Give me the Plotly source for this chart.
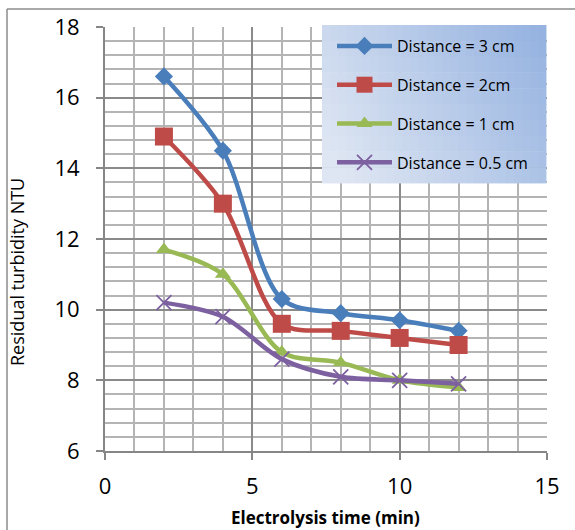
import plotly.graph_objects as go
import numpy as np

time_min = [2, 4, 6, 8, 10, 12]
d3_cm = [16.6, 14.5, 10.3, 9.9, 9.7, 9.4]
d2_cm = [14.9, 13.0, 9.6, 9.4, 9.2, 9.0]
d1_cm = [11.7, 11.0, 8.8, 8.5, 8.0, 7.8]
d05_cm = [10.2, 9.8, 8.6, 8.1, 8.0, 7.9]
series_names = ["Distance = 3 cm", "Distance = 2cm", "Distance = 1 cm", "Distance = 0.5 cm"]

colors = ["#4A7EBB", "#BE4B48", "#98B954", "#7D60A0"]
symbols = ["diamond", "square", "triangle-up", "x-thin"]
msizes = [14, 18, 14, 15]

W, H = 575, 530
L, R, T, B = 105, 28, 27, 79
pw, ph = W - L - R, H - T - B

FONT = "Open Sans, Calibri, sans-serif"

fig = go.Figure()
for name, ys, c, s, ms in zip(series_names, [d3_cm, d2_cm, d1_cm, d05_cm], colors, symbols, msizes):
    mk = dict(symbol=s, size=ms, color=c)
    if s == "x-thin":
        mk["line"] = dict(color=c, width=1.8)
    fig.add_trace(go.Scatter(
        x=time_min, y=ys, name=name, mode="lines+markers",
        line=dict(color=c, width=4.5, shape="spline", smoothing=0.9),
        marker=mk, legendgroup=name,
    ))

def px_x(p):
    return (p - L) / pw

def px_y(p):
    return (H - B - p) / ph

shapes = []
# legend gradient background
lx0, lx1, ly0, ly1 = 322, 546, 25, 183
nx, ny = 28, 10
c_light = np.array([0xDE, 0xE6, 0xF3])
c_dark = np.array([0x93, 0xB1, 0xE0])
for i in range(nx):
    for j in range(ny):
        u = (i + 0.5) / nx
        v = (j + 0.5) / ny
        t = np.clip(0.75 * u + 0.35 * (1 - v) - 0.1, 0, 1)
        col = c_light + (c_dark - c_light) * t
        x0 = lx0 + (lx1 - lx0) * i / nx
        x1 = lx0 + (lx1 - lx0) * (i + 1) / nx
        y0 = ly0 + (ly1 - ly0) * j / ny
        y1 = ly0 + (ly1 - ly0) * (j + 1) / ny
        shapes.append(dict(type="rect", xref="paper", yref="paper",
                           x0=px_x(x0), x1=px_x(x1) + 0.001, y0=px_y(y1) - 0.001, y1=px_y(y0),
                           fillcolor="rgb(%d,%d,%d)" % tuple(col.astype(int)),
                           line=dict(width=0), layer="above"))
# outer chart border (top and left visible)
shapes.append(dict(type="line", xref="paper", yref="paper",
                   x0=px_x(7), x1=px_x(580), y0=px_y(9), y1=px_y(9),
                   line=dict(color="#8C8C8C", width=1.5)))
shapes.append(dict(type="line", xref="paper", yref="paper",
                   x0=px_x(7), x1=px_x(7), y0=px_y(9), y1=px_y(540),
                   line=dict(color="#8C8C8C", width=1.5)))

tick_font = dict(family=FONT, size=22, color="#000000")

fig.update_layout(
    width=W, height=H,
    margin=dict(l=L, r=R, t=T, b=B),
    paper_bgcolor="white", plot_bgcolor="white",
    showlegend=True,
    legend=dict(
        x=px_x(lx0 + 10), y=px_y(ly0 + 4), xanchor="left", yanchor="top",
        bgcolor="rgba(0,0,0,0)", borderwidth=0,
        font=dict(family=FONT, size=16, color="#000000"),
        tracegroupgap=15, itemwidth=55,
    ),
    xaxis=dict(
        range=[0, 15], dtick=5, tick0=0,
        showgrid=True, gridcolor="#8A8A8A", gridwidth=1.6,
        minor=dict(dtick=1, showgrid=True, gridcolor="#B4B4B4", gridwidth=1.6),
        showline=True, linecolor="#868686", linewidth=2,
        ticks="outside", ticklen=7, tickcolor="#868686", tickwidth=2,
        tickfont=tick_font, ticklabelstandoff=8, zeroline=False,
    ),
    yaxis=dict(
        range=[6, 18], dtick=2, tick0=6,
        showgrid=True, gridcolor="#8A8A8A", gridwidth=1.6,
        minor=dict(dtick=0.4, showgrid=True, gridcolor="#B4B4B4", gridwidth=1.6),
        showline=True, linecolor="#868686", linewidth=2,
        ticks="outside", ticklen=7, tickcolor="#868686", tickwidth=2,
        tickfont=tick_font, ticklabelstandoff=12, zeroline=False,
    ),
    shapes=shapes,
    annotations=[
        dict(text="Residual turbidity NTU", xref="paper", yref="paper",
             x=px_x(17), y=px_y(272), textangle=-90, showarrow=False,
             xanchor="center", yanchor="middle",
             font=dict(family=FONT, size=18, color="#000000")),
        dict(text="<b>Electrolysis time (min)</b>", xref="paper", yref="paper",
             x=px_x(325), y=px_y(517), showarrow=False,
             xanchor="center", yanchor="middle",
             font=dict(family=FONT, size=17, color="#000000")),
    ],
)

fig.write_html("out.html", config={"displayModeBar": False},
               post_script="document.body.style.margin='0';document.body.style.padding='0';")
